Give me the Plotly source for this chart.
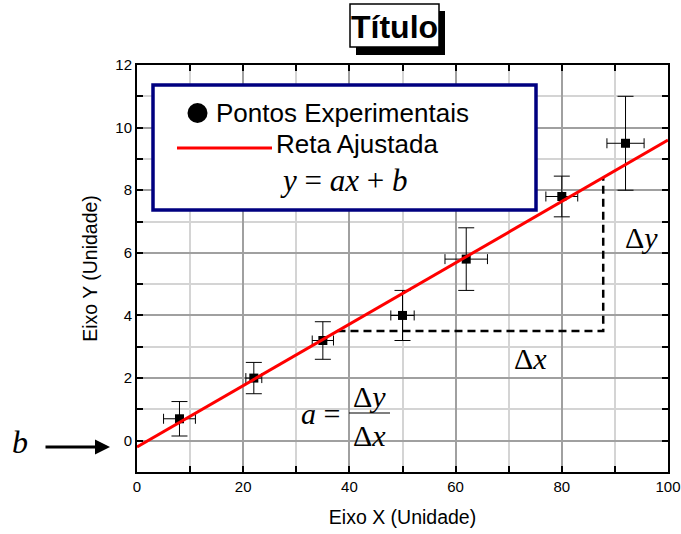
import plotly.graph_objects as go

# Experimental points with their uncertainties
x_vals = [8, 22, 35, 50, 62, 80, 92]
y_vals = [0.7, 2.0, 3.2, 4.0, 5.8, 7.8, 9.5]
x_err = [3.0, 1.5, 2.0, 2.2, 4.0, 3.0, 3.5]
y_err = [0.55, 0.5, 0.6, 0.8, 1.0, 0.65, 1.5]

# Fitted straight line y = a x + b
fit_slope = 0.098
fit_intercept = -0.2
fit_x = [0, 100]

# Slope triangle: horizontal leg at this height, vertical leg at this x
tri_y_base = 3.5
tri_x_end = 87.8

x_ticks = [0, 20, 40, 60, 80, 100]
y_ticks = [0, 2, 4, 6, 8, 10, 12]

W, H = 681, 534
ML, MR, MT, MB = 137, 13, 65, 62
PW, PH = W - ML - MR, H - MT - MB


def px(x):
    return (x - ML) / PW


def py(y):
    return (H - MB - y) / PH


SANS = "Liberation Sans, Arial, sans-serif"
SERIF = "Liberation Serif, Times New Roman, serif"

fit_y = [fit_slope * v + fit_intercept for v in fit_x]
tri_x_start = (tri_y_base - fit_intercept) / fit_slope
tri_y_top = fit_slope * tri_x_end + fit_intercept

fig = go.Figure()

fig.add_trace(go.Scatter(
    x=[tri_x_start, tri_x_end, tri_x_end],
    y=[tri_y_base, tri_y_base, tri_y_top],
    mode="lines",
    line=dict(color="black", width=2.5, dash="8px,5px"),
    hoverinfo="skip",
))

fig.add_trace(go.Scatter(
    x=x_vals, y=y_vals,
    mode="markers",
    marker=dict(symbol="square", size=9, color="black"),
    error_x=dict(type="data", array=x_err, color="black", thickness=1, width=5),
    error_y=dict(type="data", array=y_err, color="black", thickness=1, width=8),
    name="Pontos Experimentais",
))

fig.add_trace(go.Scatter(
    x=fit_x, y=fit_y,
    mode="lines",
    line=dict(color="#ff0000", width=3),
    name="Reta Ajustada",
))

axis_common = dict(
    showline=True, linecolor="black", linewidth=2, mirror="allticks",
    ticks="inside", ticklen=6, tickwidth=2, tickcolor="black",
    showgrid=True, gridcolor="#a0a0a0", gridwidth=1.5,
    zeroline=False, automargin=False,
    tickfont=dict(family=SANS, size=15, color="black"),
)

fig.update_xaxes(
    range=[0, 100], tickvals=x_ticks,
    minor=dict(dtick=10, tick0=0, ticks="inside", ticklen=6, tickwidth=2,
               tickcolor="black", showgrid=True, gridcolor="#d4d4d4", gridwidth=1.5),
    title=dict(text="Eixo X (Unidade)", font=dict(family=SANS, size=19.5, color="black"),
               standoff=16),
    **axis_common,
)
fig.update_yaxes(
    range=[-1, 12], tickvals=y_ticks,
    minor=dict(dtick=1, tick0=0, ticks="inside", ticklen=6, tickwidth=2,
               tickcolor="black", showgrid=True, gridcolor="#d4d4d4", gridwidth=1.5),
    title=dict(text="Eixo Y (Unidade)", font=dict(family=SANS, size=19.5, color="black"),
               standoff=12),
    **axis_common,
)

shapes = [
    # title shadow and frame
    dict(type="rect", xref="paper", yref="paper",
         x0=px(356), x1=px(445), y0=py(55), y1=py(11),
         fillcolor="black", line=dict(width=0), layer="above"),
    dict(type="rect", xref="paper", yref="paper",
         x0=px(350), x1=px(439), y0=py(47), y1=py(4),
         fillcolor="white", line=dict(color="black", width=1.5), layer="above"),
    # legend frame
    dict(type="rect", xref="paper", yref="paper",
         x0=px(153), x1=px(536), y0=py(210), y1=py(85),
         fillcolor="white", line=dict(color="#000080", width=3.5), layer="above"),
    # legend symbols
    dict(type="circle", xref="paper", yref="paper",
         x0=px(187.5), x1=px(207.5), y0=py(123), y1=py(103),
         fillcolor="black", line=dict(width=0), layer="above"),
    dict(type="line", xref="paper", yref="paper",
         x0=px(177), x1=px(272), y0=py(148), y1=py(148),
         line=dict(color="#ff0000", width=3), layer="above"),
    # fraction bar of a = Δy/Δx
    dict(type="line", xref="paper", yref="paper",
         x0=px(349), x1=px(390), y0=py(413), y1=py(413),
         line=dict(color="black", width=1.2), layer="above"),
]

annotations = [
    dict(text="<b>Título</b>", x=px(394.5), y=py(27), font=dict(family=SANS, size=32, color="black")),
    dict(text="Pontos Experimentais", x=px(214), y=py(113), xanchor="left",
         font=dict(family=SANS, size=26, color="black")),
    dict(text="Reta Ajustada", x=px(274), y=py(144), xanchor="left",
         font=dict(family=SANS, size=26, color="black")),
    dict(text="<i>y</i> = <i>ax</i> + <i>b</i>", x=px(344), y=py(180),
         font=dict(family=SERIF, size=31, color="black")),
    dict(text="Δ<i>y</i>", x=px(641), y=py(237), font=dict(family=SERIF, size=30, color="black")),
    dict(text="Δ<i>x</i>", x=px(530), y=py(358), font=dict(family=SERIF, size=30, color="black")),
    dict(text="<i>a</i> =", x=px(342), y=py(413), xanchor="right",
         font=dict(family=SERIF, size=30, color="black")),
    dict(text="Δ<i>y</i>", x=px(369.5), y=py(396), font=dict(family=SERIF, size=30, color="black")),
    dict(text="Δ<i>x</i>", x=px(369.5), y=py(435), font=dict(family=SERIF, size=30, color="black")),
    dict(text="<i>b</i>", x=px(20), y=py(442), font=dict(family=SERIF, size=32, color="black")),
    dict(text="", x=px(110), y=py(447), ax=-66, ay=0, showarrow=True,
         arrowhead=2, arrowsize=1, arrowwidth=3, arrowcolor="black"),
]
for a in annotations:
    a.setdefault("xref", "paper")
    a.setdefault("yref", "paper")
    a.setdefault("showarrow", False)
    a.setdefault("xanchor", "center")
    a.setdefault("yanchor", "middle")

fig.update_layout(
    width=W, height=H,
    margin=dict(l=ML, r=MR, t=MT, b=MB),
    paper_bgcolor="white", plot_bgcolor="white",
    showlegend=False,
    shapes=shapes,
    annotations=annotations,
)

fig.write_html("out.html")
